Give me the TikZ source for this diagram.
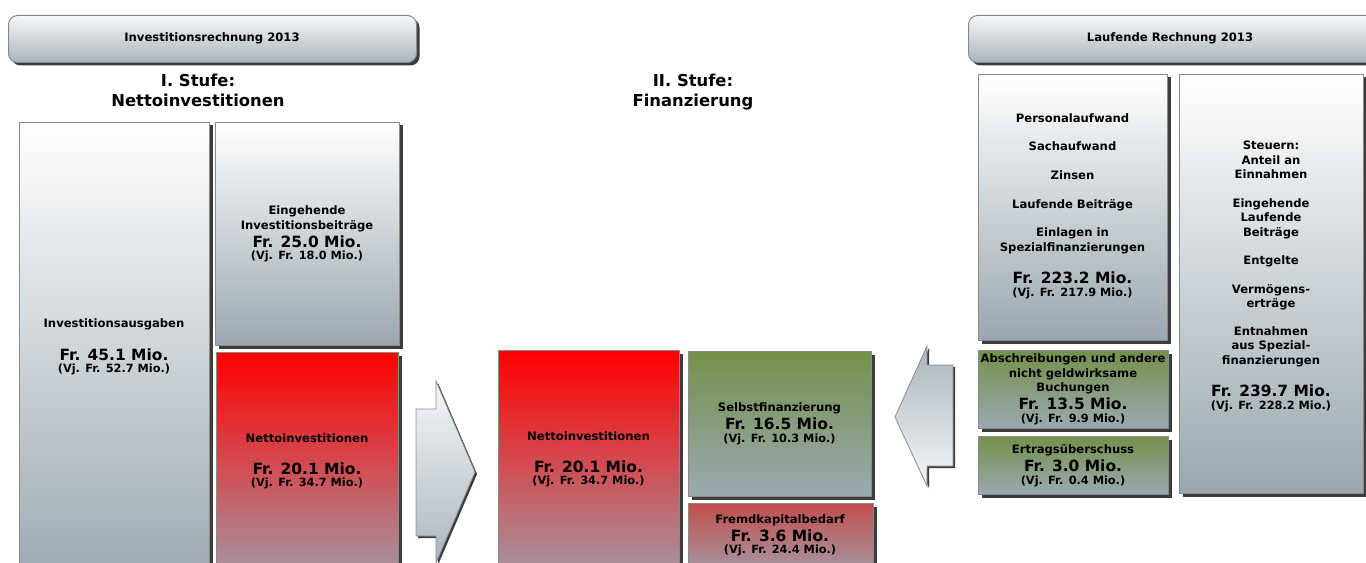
\documentclass[tikz,border=0pt]{standalone}
\usepackage{fontspec}
\setmainfont{DejaVu Sans}
\usetikzlibrary{shadows}

\newlength{\du}
\setlength{\du}{0.75pt}

\definecolor{boxtop}{HTML}{FFFFFF}
\definecolor{boxbot}{HTML}{9AA7B0}
\definecolor{headtop}{HTML}{F6F7F8}
\definecolor{headbot}{HTML}{A9B5BD}
\definecolor{redtop}{HTML}{FF0000}
\definecolor{redbot}{HTML}{A09EAA}
\definecolor{greentop}{HTML}{74904A}
\definecolor{greenbot}{HTML}{9BA9B1}
\definecolor{fktop}{HTML}{C24F4D}
\definecolor{fkbot}{HTML}{A0A4B0}
\definecolor{edgegray}{HTML}{8A8A8A}
\definecolor{shadowgray}{HTML}{3C3C3C}

\tikzset{
  panel/.style={draw=edgegray, line width=1\du, inner sep=0pt, anchor=north west,
    drop shadow={shadow xshift=3\du, shadow yshift=-3\du, fill=shadowgray, opacity=1}},
  graypanel/.style={panel, top color=boxtop, bottom color=boxbot},
  redpanel/.style={panel, top color=redtop, bottom color=redbot},
  greenpanel/.style={panel, top color=greentop, bottom color=greenbot},
  fkpanel/.style={panel, top color=fktop, bottom color=fkbot},
  headpanel/.style={panel, rounded corners=9\du, top color=headtop, bottom color=headbot},
  bigarrow/.style={draw=edgegray, line width=0.8\du,
    drop shadow={shadow xshift=2\du, shadow yshift=-2\du, fill=shadowgray, opacity=1}},
  lbl/.style={anchor=base, inner sep=0pt, font=\bfseries\fontsize{8.7pt}{10pt}\selectfont},
  amt/.style={anchor=base, inner sep=0pt, font=\bfseries\fontsize{11.6pt}{13pt}\selectfont},
  vj/.style={anchor=base, inner sep=0pt, font=\bfseries\fontsize{8.5pt}{10pt}\selectfont},
  stufe/.style={anchor=base, inner sep=0pt, font=\bfseries\fontsize{12.3pt}{14pt}\selectfont}
}

\begin{document}
\begin{tikzpicture}[x=\du, y=-\du]
\useasboundingbox (0,0) rectangle (1366,563);
\clip (0,0) rectangle (1366,563);

% headers
\node[headpanel, minimum width=408\du, minimum height=47\du] (headInv) at (8,15) {};
\node[lbl] (tInv) at (212,42) {Investitionsrechnung 2013};
\node[headpanel, minimum width=420\du, minimum height=47\du] (headLR) at (968,15) {};
\node[lbl] (tLR) at (1170,42) {Laufende Rechnung 2013};

% I. Stufe
\node[stufe] (stufeIa) at (198,87) {I. Stufe:};
\node[stufe] (stufeIb) at (198,107) {Nettoinvestitionen};
\node[graypanel, minimum width=190\du, minimum height=470\du] (ausgaben) at (19,122) {};
\node[lbl] (ausgaben1) at (114,327) {Investitionsausgaben};
\node[amt] (ausgaben2) at (114,360) {Fr. 45.1 Mio.};
\node[vj] (ausgaben3) at (114,372.5) {(Vj. Fr. 52.7 Mio.)};

\node[graypanel, minimum width=184\du, minimum height=223\du] (beitraege) at (215,122) {};
\node[lbl] (beitraege1) at (307,214) {Eingehende};
\node[lbl] (beitraege2) at (307,229) {Investitionsbeiträge};
\node[amt] (beitraege3) at (307,247) {Fr. 25.0 Mio.};
\node[vj] (beitraege4) at (307,259.5) {(Vj. Fr. 18.0 Mio.)};

\node[redpanel, minimum width=182\du, minimum height=235\du] (nettoA) at (216,352) {};
\node[lbl] (nettoA1) at (307,442) {Nettoinvestitionen};
\node[amt] (nettoA2) at (307,474) {Fr. 20.1 Mio.};
\node[vj] (nettoA3) at (307,486.5) {(Vj. Fr. 34.7 Mio.)};

% Pfeil nach rechts
\path[bigarrow, top color=headtop, bottom color=headbot]
  (416,409) -- (436,409) -- (436,381) -- (475,472) -- (436,563) -- (436,536) -- (416,536) -- cycle;

% II. Stufe
\node[stufe] (stufeIIa) at (693,87) {II. Stufe:};
\node[stufe] (stufeIIb) at (693,107) {Finanzierung};
\node[redpanel, minimum width=181\du, minimum height=237\du] (nettoB) at (498,350) {};
\node[lbl] (nettoB1) at (588.5,440) {Nettoinvestitionen};
\node[amt] (nettoB2) at (588.5,472) {Fr. 20.1 Mio.};
\node[vj] (nettoB3) at (588.5,484.5) {(Vj. Fr. 34.7 Mio.)};

\node[greenpanel, minimum width=183\du, minimum height=145\du] (selbst) at (688,351) {};
\node[lbl] (selbst1) at (779.5,411) {Selbstfinanzierung};
\node[amt] (selbst2) at (779.5,429) {Fr. 16.5 Mio.};
\node[vj] (selbst3) at (779.5,442.5) {(Vj. Fr. 10.3 Mio.)};

\node[fkpanel, minimum width=185\du, minimum height=80\du] (fremd) at (688,503) {};
\node[lbl] (fremd1) at (780,523) {Fremdkapitalbedarf};
\node[amt] (fremd2) at (780,541) {Fr. 3.6 Mio.};
\node[vj] (fremd3) at (780,553.5) {(Vj. Fr. 24.4 Mio.)};

% Pfeil nach links
\path[bigarrow, top color=headbot, bottom color=headtop]
  (953,365) -- (927,365) -- (927,346) -- (895,417) -- (927,486) -- (927,466) -- (953,466) -- cycle;

% Laufende Rechnung
\node[graypanel, minimum width=189\du, minimum height=266\du] (aufwand) at (978,74) {};
\node[lbl] (aufwand1) at (1072.5,123) {Personalaufwand};
\node[lbl] (aufwand2) at (1072.5,151) {Sachaufwand};
\node[lbl] (aufwand3) at (1072.5,180) {Zinsen};
\node[lbl] (aufwand4) at (1072.5,208) {Laufende Beiträge};
\node[lbl] (aufwand5) at (1072.5,236) {Einlagen in};
\node[lbl] (aufwand6) at (1072.5,251) {Spezialfinanzierungen};
\node[amt] (aufwand7) at (1072.5,283) {Fr. 223.2 Mio.};
\node[vj] (aufwand8) at (1072.5,296.5) {(Vj. Fr. 217.9 Mio.)};

\node[graypanel, minimum width=184\du, minimum height=419\du] (ertrag) at (1179,74) {};
\node[lbl] (ertrag1) at (1271,150) {Steuern:};
\node[lbl] (ertrag2) at (1271,165) {Anteil an};
\node[lbl] (ertrag3) at (1271,179) {Einnahmen};
\node[lbl] (ertrag4) at (1271,207) {Eingehende};
\node[lbl] (ertrag5) at (1271,221) {Laufende};
\node[lbl] (ertrag6) at (1271,236) {Beiträge};
\node[lbl] (ertrag7) at (1271,264) {Entgelte};
\node[lbl] (ertrag8) at (1271,293) {Vermögens-};
\node[lbl] (ertrag9) at (1271,307) {erträge};
\node[lbl] (ertrag10) at (1271,335) {Entnahmen};
\node[lbl] (ertrag11) at (1271,349) {aus Spezial-};
\node[lbl] (ertrag12) at (1271,364) {finanzierungen};
\node[amt] (ertrag13) at (1271,396) {Fr. 239.7 Mio.};
\node[vj] (ertrag14) at (1271,409.5) {(Vj. Fr. 228.2 Mio.)};

\node[greenpanel, minimum width=190\du, minimum height=78\du] (abschr) at (978,350) {};
\node[lbl] (abschr1) at (1073,362) {Abschreibungen und andere};
\node[lbl] (abschr2) at (1073,377) {nicht geldwirksame};
\node[lbl] (abschr3) at (1073,391) {Buchungen};
\node[amt] (abschr4) at (1073,409) {Fr. 13.5 Mio.};
\node[vj] (abschr5) at (1073,422) {(Vj. Fr. 9.9 Mio.)};

\node[greenpanel, minimum width=190\du, minimum height=58\du] (ueberschuss) at (978,436) {};
\node[lbl] (ueberschuss1) at (1073,453) {Ertragsüberschuss};
\node[amt] (ueberschuss2) at (1073,471.5) {Fr. 3.0 Mio.};
\node[vj] (ueberschuss3) at (1073,484) {(Vj. Fr. 0.4 Mio.)};
\end{tikzpicture}
\end{document}
